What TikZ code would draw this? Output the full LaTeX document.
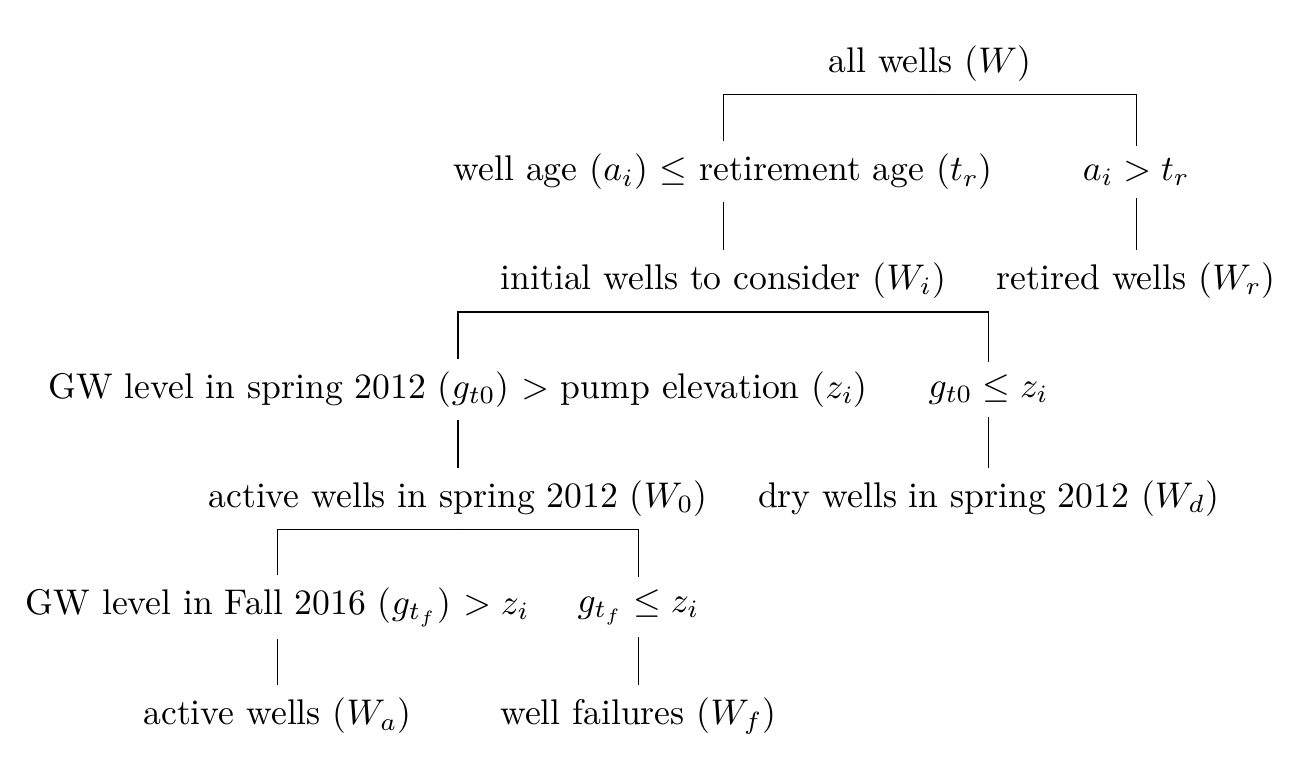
\documentclass[tikz,border=0pt]{standalone}
\usepackage{amsmath}
\usepackage{amssymb}
\usepackage{tikz}
\usetikzlibrary{positioning}

\begin{document}
\begin{tikzpicture}[node distance=30.5pt,on grid,auto,
    fork/.style={to path={(\tikztostart) -- ++(0,-0.3pt) -| (\tikztotarget)}}]
      \useasboundingbox (-260.7pt,17.7pt) rectangle (106.6pt,-200.7pt);
      \node (all) {all wells (\(W\))};
      \node[below left =30.5pt and 57.9pt of all] (a0) {well age (\(a_i\)) \(\leq\) retirement age (\(t_r\))};
      \node[below right =30.5pt and 57.9pt of all] (a1) {\(a_i > t_r\)};
      \node[below =of a0] (wi) {initial wells to consider (\(W_i\))};
      \node[below =of a1] (wr) {retired wells (\(W_r\))};
      \node[below left =30.5pt and 74.4pt of wi] (g0) {GW level in spring 2012 (\(g_{t0}\)) \(>\) pump elevation (\(z_i\))};
      \node[below right =30.5pt and 74.4pt of wi] (g1) {\(g_{t0} \leq z_i\)};
      \node[below =of g0] (w0) {active wells in spring 2012 (\(W_0\))};
      \node[below =of g1] (wd) {dry wells in spring 2012 (\(W_d\))};
      \node[below left =30.5pt and 50.6pt of w0] (f0) {GW level in Fall 2016 (\(g_{t_f}\)) \(> z_i\)};
      \node[below right =30.5pt and 50.6pt of w0] (f1) {\(g_{t_f} \leq z_i\)};
      \node[below =of f0] (wa) {active wells (\(W_a\))};
      \node[below =of f1] (wf) {well failures (\(W_f\))};
      \path
      (all.south) edge[fork] (a0.north)
      (all.south) edge[fork] (a1.north)
      (a0) edge (wi)
      (a1) edge (wr)
      (wi.south) edge[fork] (g0.north)
      (wi.south) edge[fork] (g1.north)
      (g0) edge (w0)
      (g1) edge (wd)
      (w0.south) edge[fork] (f0.north)
      (w0.south) edge[fork] (f1.north)
      (f0) edge (wa)
      (f1) edge (wf)
      ;
    \end{tikzpicture}
\end{document}
